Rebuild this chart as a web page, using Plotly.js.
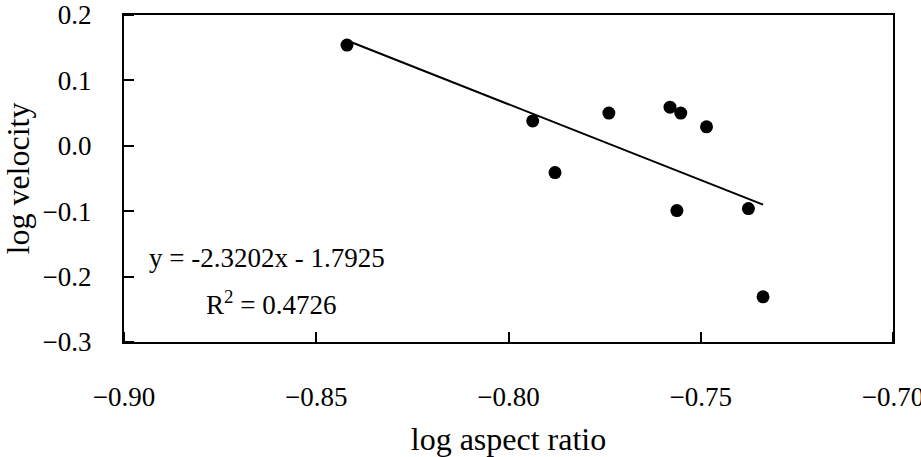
<!DOCTYPE html>
<html><head><meta charset="utf-8">
<script src="https://cdn.plot.ly/plotly-3.0.1.min.js"></script>
</head><body style="margin:0;padding:0;background:#fff"><div id="chart"></div>
<script>
const aspectX = [-0.842, -0.7937, -0.7879, -0.7739, -0.7580, -0.7552, -0.7485, -0.7562, -0.7376, -0.7338];
const velocityY = [0.154, 0.038, -0.041, 0.050, 0.059, 0.050, 0.029, -0.099, -0.096, -0.231];
const trendX = [-0.842, -0.7338];
const trendY = [0.161, -0.090];
const xTicks = [-0.90, -0.85, -0.80, -0.75, -0.70];
const yTicks = [0.2, 0.1, 0.0, -0.1, -0.2, -0.3];
const eqText = "y = -2.3202x - 1.7925";
const r2Text = "R<sup>2</sup> = 0.4726";

const data = [
  {x: trendX, y: trendY, mode: "lines", type: "scatter", line: {color: "#000", width: 2}, showlegend: false, hoverinfo: "skip"},
  {x: aspectX, y: velocityY, mode: "markers", type: "scatter", marker: {color: "#000", size: 13}, showlegend: false}
];
const layout = {
  width: 921, height: 457,
  margin: {l: 124, r: 28, t: 15, b: 115},
  paper_bgcolor: "#fff", plot_bgcolor: "#fff",
  showlegend: false,
  font: {family: "Liberation Serif", size: 27, color: "#000"},
  xaxis: {range: [-0.90, -0.70], tickvals: xTicks, tickformat: ".2f", ticklabeloverflow: "allow",
    showline: true, mirror: true, linecolor: "#000", linewidth: 2,
    ticks: "outside", ticklen: 30, tickwidth: 1, tickcolor: "#fff", showgrid: false, zeroline: false,
    minor: {tickmode: "array", tickvals: xTicks, ticks: "inside", ticklen: 10, tickwidth: 1.5, tickcolor: "#000", showgrid: false},
    title: {text: "log aspect ratio", standoff: 30}},
  yaxis: {range: [-0.3, 0.2], tickvals: yTicks, tickformat: ".1f",
    showline: true, mirror: true, linecolor: "#000", linewidth: 2,
    ticks: "outside", ticklen: 25, tickwidth: 1, tickcolor: "#fff", showgrid: false, zeroline: false,
    minor: {tickmode: "array", tickvals: yTicks, ticks: "inside", ticklen: 10, tickwidth: 1.5, tickcolor: "#000", showgrid: false},
    title: {text: "log velocity", standoff: 10}},
  annotations: [
    {x: 0.030, y: 0.257, xref: "paper", yref: "paper", text: eqText, showarrow: false, xanchor: "left", yanchor: "middle", font: {family: "Liberation Serif", size: 27}},
    {x: 0.104, y: 0.119, xref: "paper", yref: "paper", text: r2Text, showarrow: false, xanchor: "left", yanchor: "middle", font: {family: "Liberation Serif", size: 27}}
  ]
};
Plotly.newPlot("chart", data, layout, {displayModeBar: false});
</script></body></html>
